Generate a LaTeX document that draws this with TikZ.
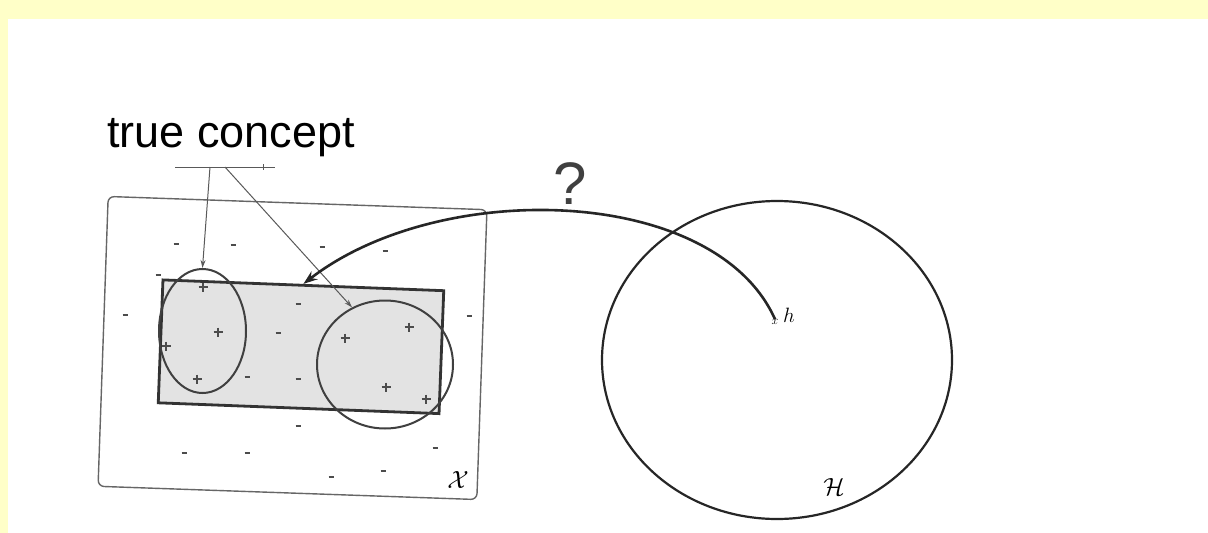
\documentclass[tikz,border=0pt]{standalone}
\usepackage{amsmath, amssymb}
\usepackage{fontspec}
\newfontfamily\labelfont{Liberation Sans}
\usepackage{tikz}
\usetikzlibrary{shapes,arrows.meta,positioning,calc}
\definecolor{pagebg}{RGB}{255,255,200}

\begin{document}
\begin{tikzpicture}[
    x=1pt, y=-1pt,
    space/.style={rectangle, draw=black!60, line width=1.4pt, rounded corners=6pt, inner sep=0pt, minimum width=379pt, minimum height=290pt, rotate=-2},
    region/.style={rectangle, draw=black!80, line width=2.8pt, fill=black!11, inner sep=0pt, minimum width=281pt, minimum height=123pt, rotate=-2.2},
    cluster/.style={ellipse, draw=black!75, line width=2pt, inner sep=0pt},
    pointer/.style={draw=black!65, line width=1pt, -{Stealth[length=8pt,width=5pt]}},
    guess/.style={draw=black!85, line width=2.6pt, -{Stealth[length=14pt,width=10pt]}},
    negpt/.style={draw=black!70, line width=1.4pt},
    pospt/.style={draw=black!70, line width=1.1pt}
]

% page
\useasboundingbox (0,0) rectangle (1208,533);
\fill[pagebg] (0,0) rectangle (1208,533);
\fill[white] (8,19) rectangle (1208,533);

% instance space X
\node (inst) at (292.5,348) [space] {};
\node (target) at (301,346.75) [region] {};
\node at (458,480) [font=\fontsize{28}{28}\selectfont] {$\mathcal{X}$};

% negative examples
\foreach \px/\py in {176/244, 233/245, 322/247, 385/251, 158/275, 125/315, 298/304,
    469/316, 278/333, 247/377, 298/379, 298/426, 184/453, 247/453, 435/448, 383/471, 331/477}
  \draw[negpt] (\px-2.5,\py) -- (\px+2.5,\py);

% positive examples
\foreach \px/\py in {203/287, 218/332, 166/346, 197/379, 345/338, 409/327, 386/387, 426/399}
  \draw[pospt] (\px-4.5,\py) -- (\px+4.5,\py) (\px,\py-4.5) -- (\px,\py+4.5);

% true concept
\node (posA) at (202.5,331) [cluster, minimum width=87pt, minimum height=124pt] {};
\node (posB) at (385,364.5) [cluster, minimum width=136pt, minimum height=128pt] {};
\node (concept) at (107,147) [anchor=base west, inner sep=0pt, font=\labelfont\fontsize{45}{45}\selectfont] {true concept};
\coordinate (barL) at (175,167);
\coordinate (barR) at (275,167);
\coordinate (bar1) at (210,167);
\coordinate (bar2) at (225,167);
\draw[draw=black!65, line width=1pt] (barL) -- (barR) ($(barR)+(-12,-3)$) -- ($(barR)+(-12,3)$);
\draw[pointer] (bar1) -- (posA.north);
\draw[pointer] (bar2) -- (posB.120);

% hypothesis space H
\node (hspace) at (777,360) [ellipse, draw=black!85, line width=2.2pt, inner sep=0pt, minimum width=350pt, minimum height=318pt] {};
\node at (834,487) [font=\fontsize{32}{32}\selectfont] {$\mathcal{H}$};
\node (hmark) at (775,322) [inner sep=0pt, font=\fontsize{13}{13}\selectfont] {$x$};
\node at (783,322) [anchor=base west, inner sep=0pt, font=\fontsize{21}{21}\selectfont] {$h$};

% which h?
\draw[guess] (hmark.north) .. controls (715,185) and (440,178) .. (target.north);
\node (quest) at (570,204) [anchor=base, inner sep=0pt, text=black!75, font=\labelfont\fontsize{60}{60}\selectfont] {?};

\end{tikzpicture}
\end{document}
